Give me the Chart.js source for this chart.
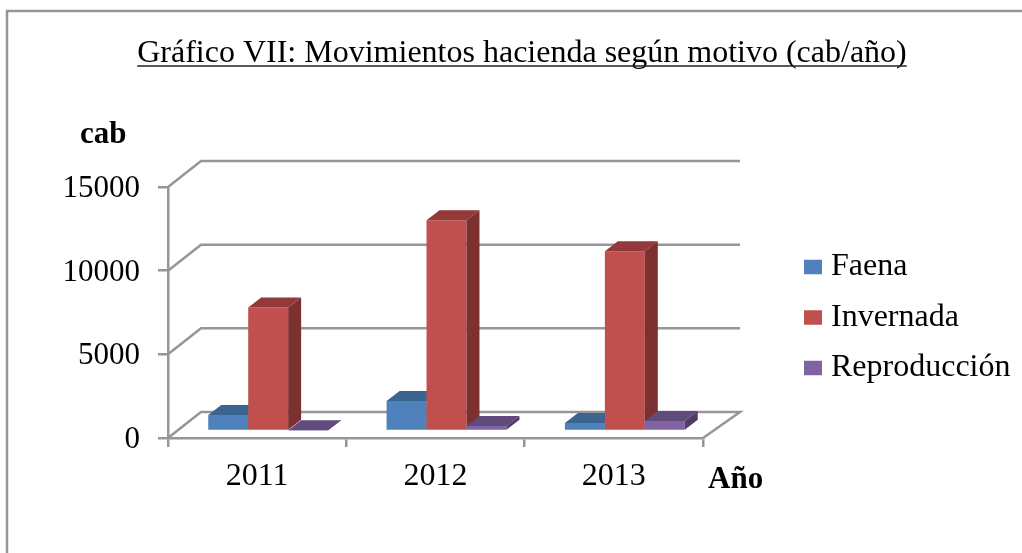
<!DOCTYPE html>
<html>
<head>
<meta charset="utf-8">
<style>html,body{margin:0;padding:0;background:#fff;overflow:hidden}canvas{display:block}</style>
<script src="https://cdn.jsdelivr.net/npm/chart.js@4"></script>
</head>
<body>
<div style="width:1022px;height:553px"><canvas id="c"></canvas></div>
<script>
const categories = ['2011', '2012', '2013'];
const faena = [960, 1800, 480];
const invernada = [7380, 12600, 10740];
const reproduccion = [50, 300, 600];
const titleText = 'Gráfico VII: Movimientos hacienda según motivo (cab/año)';

const SERIF = '"Liberation Serif", "Times New Roman", serif';
const GRID = '#969696';
const LW = 2.5;
const DX = 33, DY = -26, BDX = 13, BDY = -10, SHIFTX = 11, SHIFTY = -7;
const shades = [
  {top:'#3c6491', side:'#345679'},
  {top:'#93393a', side:'#7c3130'},
  {top:'#614a7c', side:'#4f3d66'}
];

const threeD = {
  id: 'threeD',
  afterLayout(chart) {
    const t = chart.titleBlock; t.left = 0; t.right = 1044;
    const l = chart.legend;
    l.left = 792.5; l.right = 1022; l.top = 232.5; l.bottom = 553;
  },
  beforeDraw(chart) {
    const c = chart.ctx;
    c.save();
    c.strokeStyle = GRID; c.lineWidth = LW;
    c.beginPath();
    c.moveTo(1022, 11); c.lineTo(7, 11); c.lineTo(7, 553);
    c.stroke();
    c.restore();
  },
  beforeDatasetsDraw(chart) {
    const c = chart.ctx, y = chart.scales.y, a = chart.chartArea;
    c.save();
    c.strokeStyle = GRID; c.lineWidth = LW;
    y.ticks.forEach(t => {
      const p = y.getPixelForValue(t.value);
      c.beginPath();
      c.moveTo(a.left, p);
      c.lineTo(a.left + DX, p + DY);
      c.lineTo(a.right + DX + 4, p + DY);
      if (t.value === 0) c.lineTo(a.right, p);
      c.stroke();
    });
    c.restore();
  },
  // Painter's order: first series first, so later bars overlap earlier side faces.
  beforeDatasetDraw() { return false; },
  afterDatasetsDraw(chart) {
    const c = chart.ctx;
    chart.data.datasets.forEach((d, i) => {
      const meta = chart.getDatasetMeta(i), s = shades[i];
      c.save();
      c.translate(SHIFTX, SHIFTY);
      meta.controller.draw();
      meta.data.forEach(b => {
        const l = b.x - b.width / 2, r = b.x + b.width / 2, t = b.y, e = b.base;
        c.fillStyle = s.top;
        c.beginPath();
        c.moveTo(l, t); c.lineTo(l + BDX, t + BDY); c.lineTo(r + BDX, t + BDY); c.lineTo(r, t);
        c.closePath(); c.fill();
        c.fillStyle = s.side;
        c.beginPath();
        c.moveTo(r, t); c.lineTo(r + BDX, t + BDY); c.lineTo(r + BDX, e + BDY); c.lineTo(r, e);
        c.closePath(); c.fill();
      });
      c.restore();
    });
  },
  afterDraw(chart) {
    const c = chart.ctx;
    c.save();
    c.fillStyle = '#000';
    c.font = 'bold 31px ' + SERIF;
    c.textBaseline = 'middle';
    c.fillText('cab', 80, 135);
    c.fillText('Año', 708, 480);
    c.font = chart.options.plugins.title.font.size + 'px ' + SERIF;
    const w = c.measureText(titleText).width;
    c.strokeStyle = '#222'; c.lineWidth = 1.5;
    c.beginPath(); c.moveTo(522 - w / 2, 66); c.lineTo(522 + w / 2, 66); c.stroke();
    c.restore();
  }
};

new Chart(document.getElementById('c'), {
  type: 'bar',
  data: {
    labels: categories,
    datasets: [
      {label: 'Faena', data: faena, backgroundColor: '#4f81bd'},
      {label: 'Invernada', data: invernada, backgroundColor: '#c0504d'},
      {label: 'Reproducción', data: reproduccion, backgroundColor: '#8064a2'}
    ]
  },
  options: {
    responsive: true,
    maintainAspectRatio: false,
    animation: false,
    events: [],
    layout: {padding: {left: 0, top: 0, right: 319, bottom: 0}},
    datasets: {bar: {barPercentage: 1, categoryPercentage: 0.672, clip: false}},
    plugins: {
      tooltip: {enabled: false},
      title: {
        display: true,
        text: titleText,
        color: '#000',
        font: {family: SERIF, size: 32, weight: 'normal', lineHeight: 1},
        padding: {top: 38, bottom: 117}
      },
      legend: {
        display: true,
        position: 'chartArea',
        align: 'start',
        labels: {
          color: '#000',
          font: {family: SERIF, size: 32},
          boxWidth: 4,
          boxHeight: 0.5,
          padding: 18.5,
          generateLabels: ch => ch.data.datasets.map((d, i) => ({
            text: d.label,
            fillStyle: d.backgroundColor,
            strokeStyle: d.backgroundColor,
            lineWidth: 14,
            hidden: false,
            datasetIndex: i
          }))
        }
      }
    },
    scales: {
      x: {
        afterFit: s => { s.height = 115; },
        grid: {color: GRID, lineWidth: LW, drawOnChartArea: false, tickLength: 9, offset: true},
        border: {color: GRID, width: LW},
        ticks: {color: '#000', font: {family: SERIF, size: 32}, padding: 10, maxRotation: 0}
      },
      y: {
        min: 0, max: 15000,
        afterFit: s => { s.width = 168; },
        grid: {color: GRID, lineWidth: LW, drawOnChartArea: false, tickLength: 10},
        border: {color: GRID, width: LW},
        ticks: {color: '#000', font: {family: SERIF, size: 31}, padding: 18, stepSize: 5000, labelOffset: 2, callback: v => String(v)}
      }
    }
  },
  plugins: [threeD]
});
</script>
</body>
</html>
